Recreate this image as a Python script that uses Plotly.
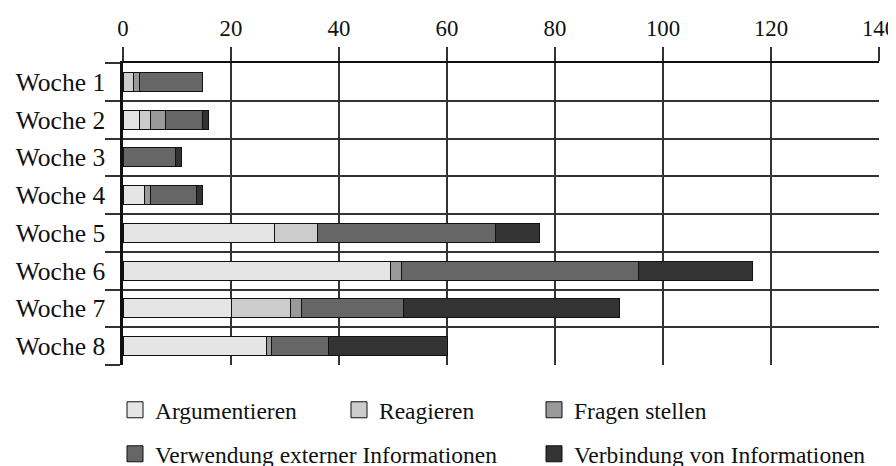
import plotly.graph_objects as go

weeks = ["Woche 1", "Woche 2", "Woche 3", "Woche 4", "Woche 5", "Woche 6", "Woche 7", "Woche 8"]
series_names = ["Argumentieren", "Reagieren", "Fragen stellen",
                "Verwendung externer Informationen", "Verbindung von Informationen"]
argumentieren = [None, 3, None, 4, 28, 49.5, 20, 26.5]
reagieren = [2, 2, None, None, 8, None, 11, None]
fragen_stellen = [1, 2.8, None, 1, None, 2, 2, 1]
verwendung = [11.7, 7, 9.7, 8.6, 33, 44, 19, 10.5]
verbindung = [None, 1, 1.1, 1.1, 8.2, 21, 40, 22]
colors = ["#e5e5e5", "#cccccc", "#999999", "#666666", "#333333"]
x_ticks = [0, 20, 40, 60, 80, 100, 120, 140]

values = [argumentieren, reagieren, fragen_stellen, verwendung, verbindung]
ypos = list(range(len(weeks)))

# legend entry anchors (pixels within the figure: left x, row centre y)
legend_slots = [(107, 402), (331, 402), (526, 402), (107, 446), (526, 446)]

FONT = "Liberation Serif"
# the page body adds an 8px margin, so the figure is 8px smaller to fit the window
W, H = 888, 458
fig = go.Figure()
for name, vals, col in zip(series_names, values, colors):
    fig.add_trace(go.Bar(
        y=ypos, x=vals, orientation="h", name=name, width=0.5,
        marker=dict(color=col, line=dict(color="#111111", width=1)),
        showlegend=False, hoverinfo="x+name",
    ))
legend_layout = {}
for i, (name, col) in enumerate(zip(series_names, colors)):
    key = "legend" if i == 0 else f"legend{i + 1}"
    fig.add_trace(go.Scatter(
        x=[None], y=[None], mode="markers", name=name,
        marker=dict(symbol="square", size=16, color=col, line=dict(color="#111111", width=1)),
        legend=key,
    ))
    lx, ly = legend_slots[i]
    legend_layout[key] = dict(
        orientation="h", xref="container", yref="container",
        x=lx / W, y=1 - ly / H, xanchor="left", yanchor="middle",
        font=dict(family=FONT, size=23.5), bgcolor="rgba(0,0,0,0)",
    )

fig.update_layout(
    width=W, height=H, barmode="stack",
    plot_bgcolor="white", paper_bgcolor="white",
    margin=dict(l=115, r=17, t=55, b=101, autoexpand=False),
    font=dict(family=FONT, size=23, color="#111111"),
    **legend_layout,
)
fig.update_xaxes(
    side="top", range=[0, 140], tickvals=x_ticks, ticktext=[str(v) for v in x_ticks],
    showgrid=True, gridcolor="#333333", gridwidth=1.5, automargin=False,
    ticks="outside", ticklen=14, tickcolor="#333333", tickwidth=1.5,
    showline=True, linecolor="#111111", linewidth=2, zeroline=False,
    ticklabelstandoff=2, ticklabeloverflow="allow", tickfont=dict(family=FONT, size=22.8),
)
fig.update_yaxes(
    range=[7.5, -0.5], tickvals=ypos, ticktext=weeks, ticks="", showgrid=False,
    zeroline=False, showline=True, linecolor="#111111", linewidth=2.5, automargin=False,
    ticklabelstandoff=10, tickfont=dict(family=FONT, size=25.5),
    minor=dict(tickvals=[v - 0.5 for v in range(len(weeks) + 1)], showgrid=True,
               gridcolor="#333333", gridwidth=1.5, ticks="outside", ticklen=15,
               tickcolor="#333333", tickwidth=1.5),
)
fig.write_html("out.html")
